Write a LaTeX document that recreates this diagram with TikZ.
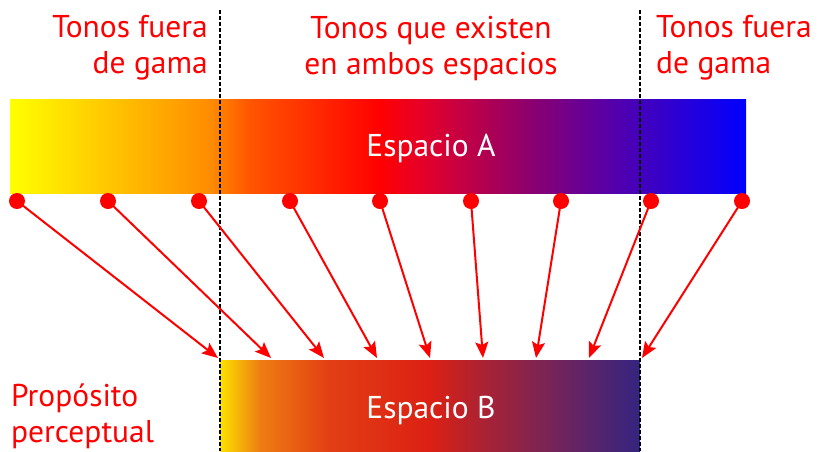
\documentclass[tikz,border=0pt]{standalone}
\usepackage{fontspec}
\setmainfont{PT Sans}
\usetikzlibrary{arrows.meta}
\pgfdeclarehorizontalshading{espacioA}{100bp}{color(0bp)=(yellow); color(25bp)=(yellow); color(38.6bp)=(rgb,255:red,255;green,140;blue,0); color(41.3bp)=(rgb,255:red,255;green,85;blue,0); color(50.1bp)=(red); color(52.9bp)=(rgb,255:red,230;green,0;blue,40); color(60.3bp)=(rgb,255:red,140;green,0;blue,110); color(66.4bp)=(rgb,255:red,80;green,0;blue,175); color(75bp)=(blue); color(100bp)=(blue)}
\pgfdeclarehorizontalshading{espacioB}{100bp}{color(0bp)=(rgb,255:red,252;green,225;blue,0); color(25bp)=(rgb,255:red,252;green,225;blue,0); color(29.8bp)=(rgb,255:red,238;green,125;blue,18); color(38.1bp)=(rgb,255:red,226;green,62;blue,20); color(50bp)=(rgb,255:red,220;green,32;blue,20); color(56bp)=(rgb,255:red,172;green,34;blue,50); color(65.5bp)=(rgb,255:red,112;green,36;blue,92); color(75bp)=(rgb,255:red,52;green,36;blue,128); color(100bp)=(rgb,255:red,52;green,36;blue,128)}
\begin{document}
\begin{tikzpicture}[x=1pt, y=-1pt,
  rotulo/.style={text=red, font=\fontsize{31.5}{36}\selectfont, inner sep=0pt},
  barra/.style={inner sep=0pt},
  etiqueta/.style={text=white, font=\fontsize{31.5}{36}\selectfont, inner sep=0pt},
  punto/.style={shape=circle, fill=red, minimum size=16pt, inner sep=0pt},
  flecha/.style={draw=red, line width=2pt, -{Stealth[length=16pt, width=13pt, inset=3pt]}},
  limite/.style={draw=black, line width=2.8pt, dash pattern=on 3.5pt off 2.5pt}]
\useasboundingbox (0,0) rectangle (821,451);
\node[barra, shading=espacioA, minimum width=736pt, minimum height=94pt] (A) at (378,146) {};
\node[barra, shading=espacioB, minimum width=420pt, minimum height=101pt] (B) at (430,410.5) {};
\draw[limite] (220,10) -- (220,451);
\draw[limite] (640,10) -- (640,451);
\node[etiqueta] (nombreA) at (431,148) {Espacio A};
\node[etiqueta] (nombreB) at (431,410) {Espacio B};
\node[rotulo, align=right, anchor=east] (fueraI) at (208,48) {Tonos fuera\\de gama};
\node[rotulo, align=center] (ambos) at (431,48) {Tonos que existen\\en ambos espacios};
\node[rotulo, align=left, anchor=west] (fueraD) at (656,48) {Tonos fuera\\de gama};
\node[rotulo, align=left, anchor=west] (proposito) at (11,416) {Propósito\\perceptual};
\node[punto] (a1) at (17,201) {};
\node[punto] (a2) at (108,201) {};
\node[punto] (a3) at (199,201) {};
\node[punto] (a4) at (290,201) {};
\node[punto] (a5) at (380,201) {};
\node[punto] (a6) at (471,201) {};
\node[punto] (a7) at (561,201) {};
\node[punto] (a8) at (651,201) {};
\node[punto] (a9) at (742,201) {};
\coordinate (b1) at (218,358);
\coordinate (b2) at (271,358);
\coordinate (b3) at (324,358);
\coordinate (b4) at (377,358);
\coordinate (b5) at (430,358);
\coordinate (b6) at (483,358);
\coordinate (b7) at (536,358);
\coordinate (b8) at (589,358);
\coordinate (b9) at (642,358);
\path[flecha] (a1.center) -- (b1);
\path[flecha] (a2.center) -- (b2);
\path[flecha] (a3.center) -- (b3);
\path[flecha] (a4.center) -- (b4);
\path[flecha] (a5.center) -- (b5);
\path[flecha] (a6.center) -- (b6);
\path[flecha] (a7.center) -- (b7);
\path[flecha] (a8.center) -- (b8);
\path[flecha] (a9.center) -- (b9);
\end{tikzpicture}
\end{document}
